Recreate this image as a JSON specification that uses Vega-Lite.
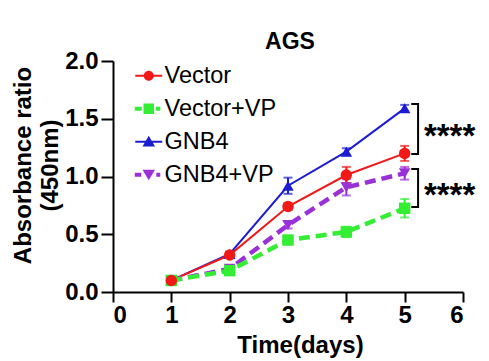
{
  "$schema": "https://vega.github.io/schema/vega-lite/v6.json",
  "autosize": "none",
  "width": 350,
  "height": 231,
  "padding": {"left": 113, "top": 61, "right": 26, "bottom": 69},
  "background": "white",
  "title": {"text": "AGS", "font": "Liberation Sans", "fontSize": 23, "fontWeight": "bold", "color": "black", "anchor": "middle", "frame": "group", "offset": -23, "baseline": "alphabetic", "dx": 2},
  "config": {
    "view": {"stroke": null},
    "axis": {"domainColor": "black", "domainWidth": 2, "tickColor": "black", "tickWidth": 2, "tickSize": 10, "labelFont": "Liberation Sans", "labelFontWeight": "bold", "labelFontSize": 24, "labelColor": "black", "titleFont": "Liberation Sans", "titleFontWeight": "bold", "titleFontSize": 24, "titleColor": "black", "grid": false},
    "legend": {"labelFont": "Liberation Sans", "labelFontSize": 23.5, "labelColor": "black"}
  },
  "datasets": {
    "pts": [
      {"series": "GNB4", "day": 1, "mean": 0.10, "err": 0.01},
      {"series": "GNB4", "day": 2, "mean": 0.33, "err": 0.02},
      {"series": "GNB4", "day": 3, "mean": 0.92, "err": 0.07},
      {"series": "GNB4", "day": 4, "mean": 1.215, "err": 0.03},
      {"series": "GNB4", "day": 5, "mean": 1.59, "err": 0.03},
      {"series": "GNB4+VP", "day": 1, "mean": 0.10, "err": 0.01},
      {"series": "GNB4+VP", "day": 2, "mean": 0.20, "err": 0.02},
      {"series": "GNB4+VP", "day": 3, "mean": 0.58, "err": 0.03},
      {"series": "GNB4+VP", "day": 4, "mean": 0.906, "err": 0.07},
      {"series": "GNB4+VP", "day": 5, "mean": 1.028, "err": 0.055},
      {"series": "Vector+VP", "day": 1, "mean": 0.10, "err": 0.01},
      {"series": "Vector+VP", "day": 2, "mean": 0.185, "err": 0.02},
      {"series": "Vector+VP", "day": 3, "mean": 0.45, "err": 0.035},
      {"series": "Vector+VP", "day": 4, "mean": 0.52, "err": 0.045},
      {"series": "Vector+VP", "day": 5, "mean": 0.725, "err": 0.08},
      {"series": "Vector", "day": 1, "mean": 0.10, "err": 0.02},
      {"series": "Vector", "day": 2, "mean": 0.32, "err": 0.02},
      {"series": "Vector", "day": 3, "mean": 0.74, "err": 0.03},
      {"series": "Vector", "day": 4, "mean": 1.013, "err": 0.07},
      {"series": "Vector", "day": 5, "mean": 1.20, "err": 0.065}
    ],
    "brackets": [
      {"grp": "a", "ord": 1, "x": 5.13, "y": 1.628},
      {"grp": "a", "ord": 2, "x": 5.23, "y": 1.628},
      {"grp": "a", "ord": 3, "x": 5.23, "y": 1.195},
      {"grp": "a", "ord": 4, "x": 5.13, "y": 1.195},
      {"grp": "b", "ord": 1, "x": 5.13, "y": 1.065},
      {"grp": "b", "ord": 2, "x": 5.23, "y": 1.065},
      {"grp": "b", "ord": 3, "x": 5.23, "y": 0.736},
      {"grp": "b", "ord": 4, "x": 5.13, "y": 0.736}
    ],
    "stars": [
      {"x": 5.33, "y": 1.41, "label": "****"},
      {"x": 5.33, "y": 0.90, "label": "****"}
    ]
  },
  "encoding": {
    "x": {"type": "quantitative", "scale": {"domain": [0, 6]}, "axis": {"values": [0, 1, 2, 3, 4, 5, 6], "title": "Time(days)", "labelPadding": 1, "titleX": 187, "titleY": 60, "titleBaseline": "alphabetic", "titleAlign": "center"}},
    "y": {"type": "quantitative", "scale": {"domain": [0, 2]}, "axis": {"values": [0, 0.5, 1, 1.5, 2], "format": ".1f", "tickSize": 12, "labelPadding": 3, "title": ["Absorbance ratio", "(450nm)"], "titleLineHeight": 27, "titleX": -83, "titleY": 104, "titleBaseline": "alphabetic", "titleAlign": "center", "titleAngle": -90}}
  },
  "layer": [
    {
      "data": {"name": "pts"},
      "transform": [{"filter": "datum.series == 'Vector' || datum.series == 'GNB4'"}],
      "mark": {"type": "line", "strokeWidth": 2},
      "encoding": {
        "x": {"field": "day"},
        "y": {"field": "mean"},
        "color": {"field": "series", "type": "nominal", "scale": {"domain": ["Vector", "Vector+VP", "GNB4", "GNB4+VP"], "range": ["#f21818", "#33ee33", "#1c1cd2", "#9a30d8"]}, "legend": null}
      }
    },
    {
      "data": {"name": "pts"},
      "transform": [{"filter": "datum.series == 'Vector+VP' || datum.series == 'GNB4+VP'"}],
      "mark": {"type": "line", "strokeWidth": 4.5, "strokeDash": [11, 6]},
      "encoding": {
        "x": {"field": "day"},
        "y": {"field": "mean"},
        "color": {"field": "series", "type": "nominal", "scale": {"domain": ["Vector", "Vector+VP", "GNB4", "GNB4+VP"], "range": ["#f21818", "#33ee33", "#1c1cd2", "#9a30d8"]}, "legend": null}
      }
    },
    {
      "data": {"name": "pts"},
      "mark": {"type": "errorbar", "ticks": {"size": 9}, "thickness": 2},
      "encoding": {
        "x": {"field": "day"},
        "y": {"field": "mean"},
        "yError": {"field": "err"},
        "color": {"field": "series", "type": "nominal", "scale": {"domain": ["Vector", "Vector+VP", "GNB4", "GNB4+VP"], "range": ["#f21818", "#33ee33", "#1c1cd2", "#9a30d8"]}, "legend": null}
      }
    },
    {
      "data": {"name": "pts"},
      "mark": {"type": "point", "filled": true, "opacity": 1, "strokeWidth": 0},
      "encoding": {
        "x": {"field": "day"},
        "y": {"field": "mean"},
        "color": {"field": "series", "type": "nominal", "scale": {"domain": ["Vector", "Vector+VP", "GNB4", "GNB4+VP"], "range": ["#f21818", "#33ee33", "#1c1cd2", "#9a30d8"]}, "legend": null},
        "shape": {"field": "series", "type": "nominal", "scale": {"domain": ["Vector", "Vector+VP", "GNB4", "GNB4+VP"], "range": ["circle", "square", "triangle-up", "triangle-down"]}, "legend": null},
        "size": {"field": "series", "type": "nominal", "scale": {"domain": ["Vector", "Vector+VP", "GNB4", "GNB4+VP"], "range": [130, 135, 165, 165]}, "legend": null}
      }
    },
    {
      "data": {"name": "brackets"},
      "mark": {"type": "line", "color": "black", "strokeWidth": 2, "strokeCap": "square"},
      "encoding": {
        "x": {"field": "x"},
        "y": {"field": "y"},
        "detail": {"field": "grp"},
        "order": {"field": "ord"}
      }
    },
    {
      "data": {"name": "stars"},
      "mark": {"type": "text", "font": "Liberation Sans", "fontSize": 33, "fontWeight": "bold", "color": "black", "align": "left", "baseline": "alphabetic", "dy": 18},
      "encoding": {
        "x": {"field": "x"},
        "y": {"field": "y"},
        "text": {"field": "label"}
      }
    },
    {
      "data": {"name": "pts"},
      "transform": [{"filter": "false"}],
      "mark": {"type": "point", "filled": true, "opacity": 1},
      "encoding": {
        "x": {"field": "day"},
        "y": {"field": "mean"},
        "color": {"field": "series", "type": "nominal", "scale": {"domain": ["Vector", "Vector+VP", "GNB4", "GNB4+VP"], "range": ["#f21818", "#33ee33", "#1c1cd2", "#9a30d8"]}, "legend": {"title": null}},
        "shape": {"field": "series", "type": "nominal", "scale": {"domain": ["Vector", "Vector+VP", "GNB4", "GNB4+VP"], "range": [
          "M-2.7,-0.2H-0.9V0.2H-2.7Z M0.9,-0.2H2.7V0.2H0.9Z M-1,0A1,1 0 1,1 1,0A1,1 0 1,1 -1,0Z",
          "M-2.8,-0.4H-1.4V0.4H-2.8Z M-1.05,-1.05H1.05V1.05H-1.05Z M1.4,-0.4H2.3V0.4H1.4Z",
          "M-2.7,-0.2H2.7V0.2H-2.7Z M0,-1.2L1.25,0.95L-1.25,0.95Z",
          "M-2.8,-0.4H-1.5V0.4H-2.8Z M0,1.1L1.25,-1.0L-1.25,-1.0Z M1.5,-0.4H2.3V0.4H1.5Z"
        ]}, "legend": {"title": null, "orient": "none", "legendX": 24, "legendY": 3, "padding": 0, "symbolSize": 100, "symbolStrokeWidth": 0, "rowPadding": 8, "labelOffset": 4, "symbolOpacity": 1}}
      }
    }
  ],
  "resolve": {"scale": {"color": "independent", "shape": "independent", "size": "independent"}, "legend": {"color": "independent", "shape": "independent"}}
}
